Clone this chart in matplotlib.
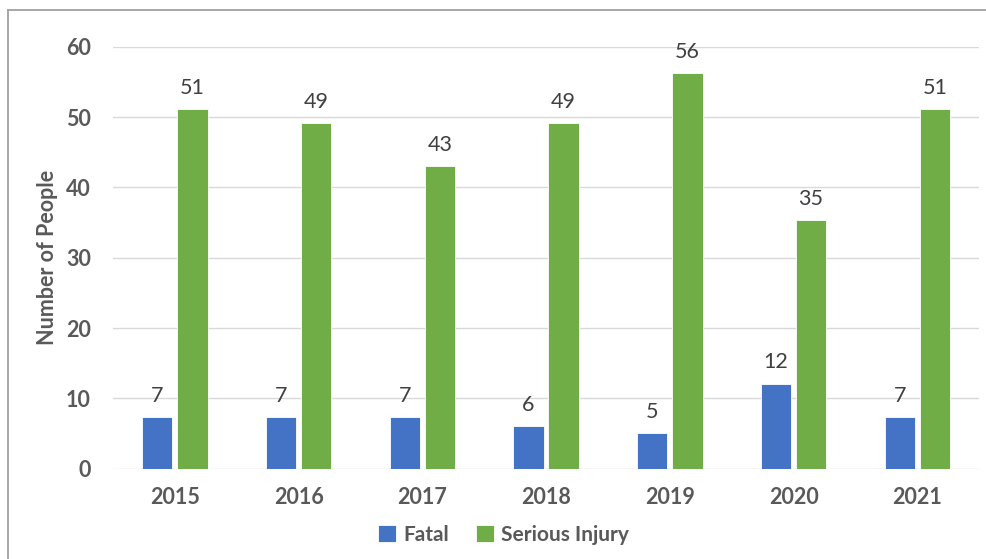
import matplotlib
matplotlib.use("Agg")
import matplotlib.pyplot as plt
import numpy as np
from matplotlib.lines import Line2D

years = ["2015", "2016", "2017", "2018", "2019", "2020", "2021"]
fatal = [7.3, 7.3, 7.3, 6.1, 5.1, 12.1, 7.3]
serious = [51.1, 49.2, 43.0, 49.2, 56.2, 35.3, 51.1]
series_names = ["Fatal", "Serious Injury"]
yticks = [0, 10, 20, 30, 40, 50, 60]

plt.rcParams['font.family'] = ['Lato', 'DejaVu Sans']

fig = plt.figure(figsize=(9.86, 5.59), dpi=100)
ax = fig.add_axes([0.1146, 0.1615, 0.8784, 0.755])

x = np.arange(len(years))
w = 0.245
off = 0.142
blue = "#4472C4"
green = "#70AD47"
b1 = ax.bar(x - off, fatal, w, color=blue, edgecolor="white", linewidth=0.6, label=series_names[0], zorder=3)
b2 = ax.bar(x + off, serious, w, color=green, edgecolor="white", linewidth=0.6, label=series_names[1], zorder=3)

for bars, vals in ((b1, fatal), (b2, serious)):
    for r, v in zip(bars, vals):
        ax.annotate(f"{v:.0f}", (r.get_x() + r.get_width() / 2, v), xytext=(0, 8),
                    textcoords="offset points", ha="center", va="bottom",
                    fontsize=15.5, color="#404040")

ax.set_xlim(-0.5, len(years) - 0.5)
ax.set_ylim(0, 60)
ax.set_yticks(yticks)
ax.set_xticks(x)
ax.set_xticklabels(years)
ax.grid(axis="y", color="#D9D9D9", linewidth=1, zorder=0)
for s in ax.spines.values():
    s.set_visible(False)
ax.tick_params(axis="both", length=0, labelsize=15.5, labelcolor="#595959")
ax.tick_params(axis="x", pad=13)
ax.tick_params(axis="y", pad=16)
for lab in ax.get_xticklabels() + ax.get_yticklabels():
    lab.set_fontweight("bold")
ax.set_ylabel("Number of People", fontsize=15.5, fontweight="bold", color="#595959", labelpad=6)

leg = fig.legend(handles=[b1, b2], labels=series_names, loc="center", bbox_to_anchor=(0.511, 0.043),
                 ncol=2, frameon=False, fontsize=15, handlelength=0.85, handleheight=0.85,
                 columnspacing=1.3, handletextpad=0.35)
for t in leg.get_texts():
    t.set_color("#595959")
    t.set_fontweight("bold")

# outer border (top and left visible)
fig.add_artist(Line2D([8 / 986, 1.0], [1 - 9.5 / 559, 1 - 9.5 / 559], color="#A0A0A0", linewidth=1.3))
fig.add_artist(Line2D([8 / 986, 8 / 986], [0, 1 - 9.5 / 559], color="#A0A0A0", linewidth=1.3))

fig.savefig("out.png", dpi=100)
